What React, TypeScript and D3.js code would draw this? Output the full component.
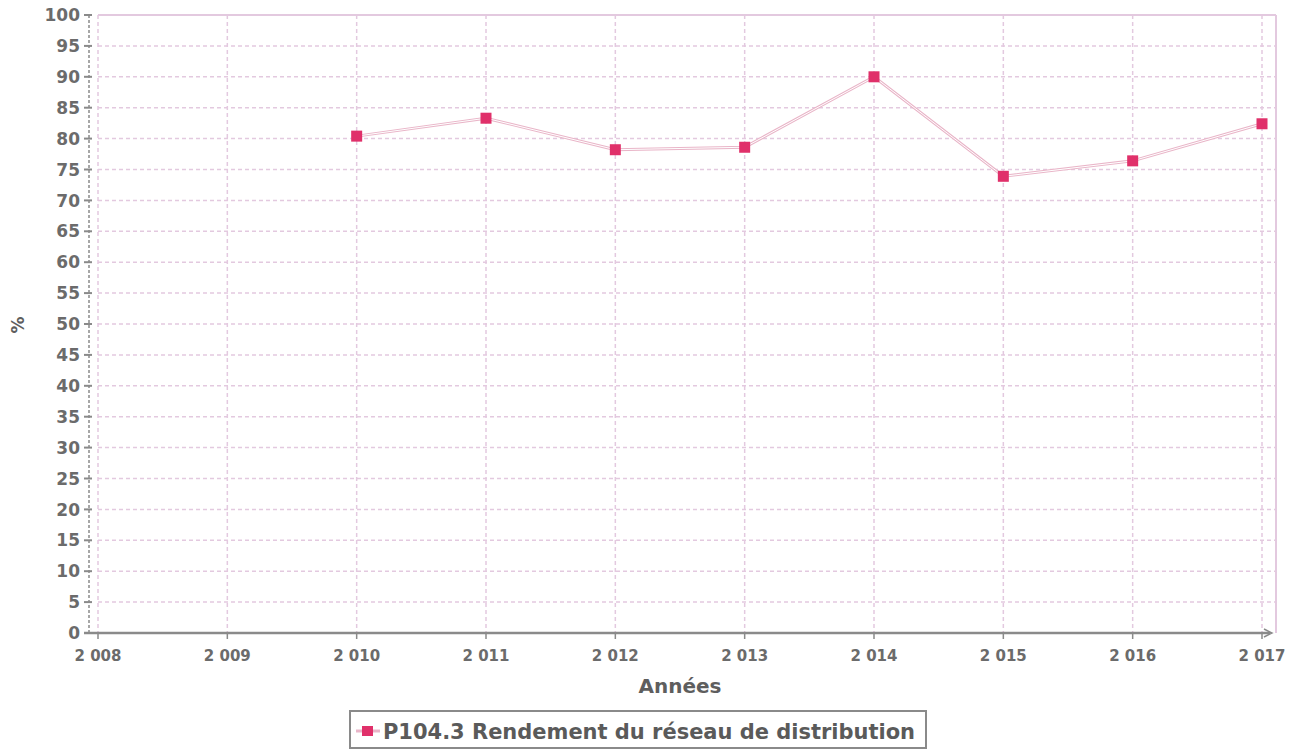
import React from "react";
import * as d3 from "d3";

const years = [2008, 2009, 2010, 2011, 2012, 2013, 2014, 2015, 2016, 2017];
const dataYears = [2010, 2011, 2012, 2013, 2014, 2015, 2016, 2017];
const rendement = [80.4, 83.3, 78.2, 78.6, 90.0, 73.9, 76.4, 82.4];
const yTicks = d3.range(0, 101, 5);
const seriesName = "P104.3 Rendement du réseau de distribution";
const xTitle = "Années";
const yTitle = "%";

const W = 1299, H = 750;
const FONT = "'DejaVu Sans', sans-serif";

export default function App() {
  const x = d3.scaleLinear().domain([2008, 2017]).range([98, 1262]);
  const y = d3.scaleLinear().domain([0, 100]).range([633, 15]);
  const pts = dataYears.map((yr, i) => [x(yr), y(rendement[i])] as [number, number]);
  const line = d3.line()(pts) || "";
  const fmtYear = (v: number) => {
    const s = String(v);
    return s.slice(0, 1) + " " + s.slice(1);
  };
  const grid = "#e3c9df";
  const axisCol = "#8a8a8a";
  const textCol = "#6b6b6b";
  return (
    <svg width={W} height={H} style={{ position: "absolute", left: 0, top: 0, background: "#fff" }}>
      {yTicks.filter(t => t > 0 && t < 100).map(t => (
        <line key={"h" + t} x1={98} x2={1276} y1={y(t)} y2={y(t)} stroke={grid} strokeWidth={1.5} strokeDasharray="4,3" />
      ))}
      {years.map(yr => (
        <line key={"v" + yr} x1={x(yr)} x2={x(yr)} y1={15} y2={633} stroke={grid} strokeWidth={1.5} strokeDasharray="4,3" />
      ))}
      <line x1={98} x2={1276} y1={15} y2={15} stroke={grid} strokeWidth={2} />
      <line x1={1276} x2={1276} y1={15} y2={633} stroke={grid} strokeWidth={2} />
      <line x1={89} x2={89} y1={15} y2={633} stroke={axisCol} strokeWidth={1.5} strokeDasharray="3,2" />
      {yTicks.map(t => (
        <g key={"yt" + t}>
          <line x1={84} x2={92} y1={y(t)} y2={y(t)} stroke={axisCol} strokeWidth={2} />
          <text x={80} y={y(t)} dy="0.36em" textAnchor="end" fontFamily={FONT} fontWeight="bold" fontSize={17} fill={textCol}>{t}</text>
        </g>
      ))}
      <line x1={84} x2={1270} y1={633} y2={633} stroke={axisCol} strokeWidth={2.5} />
      <path d="M1264,629 L1272,633 L1264,637" fill="none" stroke={axisCol} strokeWidth={1.5} />
      {years.map(yr => (
        <g key={"xt" + yr}>
          <line x1={x(yr)} x2={x(yr)} y1={633} y2={639} stroke={axisCol} strokeWidth={1.5} />
          <text x={x(yr)} y={661} textAnchor="middle" fontFamily={FONT} fontWeight="bold" fontSize={15} fill={textCol}>{fmtYear(yr)}</text>
        </g>
      ))}
      <text x={680} y={693} textAnchor="middle" fontFamily={FONT} fontWeight="bold" fontSize={20} fill="#5e5e5e">{xTitle}</text>
      <text transform="translate(24,325) rotate(-90)" textAnchor="middle" fontFamily={FONT} fontWeight="bold" fontSize={17} fill="#5e5e5e">{yTitle}</text>
      <path d={line} fill="none" stroke="#e9b5c8" strokeWidth={3} />
      <path d={line} fill="none" stroke="#fff" strokeWidth={1} />
      {pts.map(([px, py], i) => (
        <rect key={"m" + i} x={px - 5.5} y={py - 5.5} width={11} height={11} fill="#e0306a" />
      ))}
      <rect x={350} y={711} width={576} height={37} fill="#fff" stroke="#8a8a8a" strokeWidth={2} />
      <line x1={356} x2={380} y1={731} y2={731} stroke="#e9b5c8" strokeWidth={3} />
      <rect x={362} y={726} width={11} height={10} fill="#e0306a" />
      <text x={383} y={739} textLength={532} lengthAdjust="spacingAndGlyphs" fontFamily={FONT} fontWeight="bold" fontSize={21} fill="#5a5a5a">{seriesName}</text>
    </svg>
  );
}
